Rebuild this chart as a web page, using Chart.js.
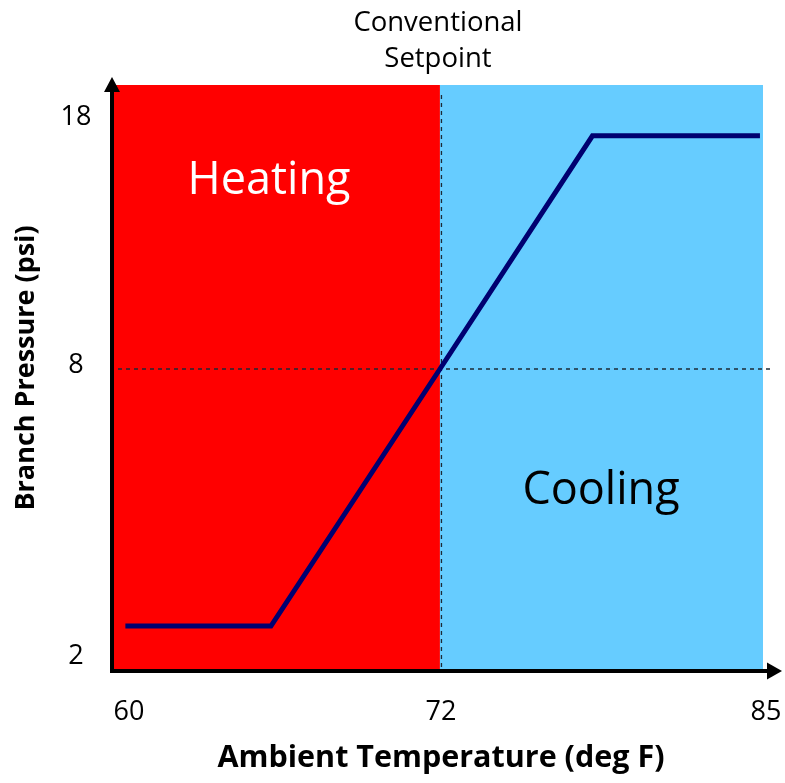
<!DOCTYPE html>
<html>
<head>
<meta charset="utf-8">
<script src="https://cdn.jsdelivr.net/npm/chart.js@4.4.1/dist/chart.umd.min.js"></script>
<style>
  html, body { margin: 0; padding: 0; background: #fff; }
  #contenedor { width: 785px; height: 783px; position: relative; }
</style>
</head>
<body>
<div id="contenedor"><canvas id="grafico"></canvas></div>
<script>
// datos
const temperaturas = [59.9, 65.5, 72, 78.1, 84.8];   // deg F
const presiones = [2.7, 2.7, 8, 17.4, 17.4];         // psi
const ticksX = [60, 72, 85];
const ticksY = [2, 8, 18];
const setpoint = 72;
const presionMedia = 8;

const FUENTE = "'Open Sans', 'Noto Sans', sans-serif";

// escala lineal por tramos: el eje del original no es proporcional
class EscalaTramos extends Chart.LinearScale {
  aDecimal(valor) {
    const tramos = this.options.tramos;
    let i = 1;
    while (i < tramos.length - 1 && valor > tramos[i][0]) i++;
    const [v0, d0] = tramos[i - 1];
    const [v1, d1] = tramos[i];
    return d0 + (valor - v0) * (d1 - d0) / (v1 - v0);
  }
  getPixelForValue(valor) {
    if (valor === null || valor === undefined) return NaN;
    return this.getPixelForDecimal(this.aDecimal(valor));
  }
  getValueForPixel(pixel) {
    const d = this.getDecimalForPixel(pixel);
    const tramos = this.options.tramos;
    let i = 1;
    while (i < tramos.length - 1 && d > tramos[i][1]) i++;
    const [v0, d0] = tramos[i - 1];
    const [v1, d1] = tramos[i];
    return v0 + (d - d0) * (v1 - v0) / (d1 - d0);
  }
}
EscalaTramos.id = "tramos";
EscalaTramos.defaults = {};
Chart.register(EscalaTramos);

function flecha(ctx, x1, y1, x2, y2, x3, y3) {
  ctx.beginPath();
  ctx.moveTo(x1, y1);
  ctx.lineTo(x2, y2);
  ctx.lineTo(x3, y3);
  ctx.closePath();
  ctx.fill();
}

const fondoYGuias = {
  id: "fondoYGuias",
  beforeDatasetsDraw(chart) {
    const { ctx, chartArea: a, scales: { x, y } } = chart;
    const xs = x.getPixelForValue(setpoint);
    const ym = y.getPixelForValue(presionMedia);
    ctx.save();
    ctx.fillStyle = "#ff0000";
    ctx.fillRect(a.left, a.top, xs - a.left, a.bottom - a.top);
    ctx.fillStyle = "#66ccff";
    ctx.fillRect(xs, a.top, a.right - xs, a.bottom - a.top);

    ctx.setLineDash([4, 4]);
    ctx.strokeStyle = "#1c2a36";
    ctx.lineWidth = 1.3;
    ctx.beginPath();
    ctx.moveTo(xs + 1.5, a.top + 10);
    ctx.lineTo(xs + 1.5, a.bottom);
    ctx.stroke();

    ctx.lineWidth = 1.5;
    ctx.beginPath();
    ctx.moveTo(a.left - 3, ym);
    ctx.lineTo(a.right + 10, ym);
    ctx.stroke();
    ctx.restore();
  },
  afterDraw(chart) {
    const { ctx, chartArea: a, scales: { x, y } } = chart;
    ctx.save();
    // ejes con flecha
    ctx.strokeStyle = "#000";
    ctx.fillStyle = "#000";
    ctx.lineWidth = 4;
    ctx.beginPath();
    ctx.moveTo(a.left - 1, a.bottom + 4);
    ctx.lineTo(a.left - 1, a.top + 5);
    ctx.moveTo(a.left - 3, a.bottom + 2);
    ctx.lineTo(a.right + 6, a.bottom + 2);
    ctx.stroke();
    flecha(ctx, a.left - 1, a.top - 8, a.left - 9, a.top + 7, a.left + 7, a.top + 7);
    flecha(ctx, a.right + 19, a.bottom + 2, a.right + 4, a.bottom - 6.5, a.right + 4, a.bottom + 10.5);

    // etiquetas de los ticks
    ctx.font = `27px ${FUENTE}`;
    ctx.textAlign = "center";
    ctx.textBaseline = "middle";
    ticksY.forEach((v) => ctx.fillText(String(v), 76, y.getPixelForValue(v) - 3.5));
    ticksX.forEach((v) => ctx.fillText(String(v), x.getPixelForValue(v) + 1, 712));

    // textos
    const xs = x.getPixelForValue(setpoint);
    ctx.textBaseline = "alphabetic";
    ctx.font = `27.5px ${FUENTE}`;
    ctx.fillText("Conventional", xs - 2, 31);
    ctx.fillText("Setpoint", xs - 2, 67);

    ctx.font = `45px ${FUENTE}`;
    ctx.fillStyle = "#fff";
    ctx.fillText("Heating", 269, 194);
    ctx.fillStyle = "#000";
    ctx.fillText("Cooling", 601, 504);

    ctx.font = `bold 30.5px ${FUENTE}`;
    ctx.fillText("Ambient Temperature (deg F)", 441, 767);

    ctx.save();
    ctx.translate(26, 368);
    ctx.rotate(-Math.PI / 2);
    ctx.textBaseline = "middle";
    ctx.font = `bold 27px ${FUENTE}`;
    ctx.fillText("Branch Pressure (psi)", 0, 0);
    ctx.restore();
    ctx.restore();
  },
};

new Chart(document.getElementById("grafico"), {
  type: "line",
  data: {
    datasets: [
      {
        data: temperaturas.map((t, i) => ({ x: t, y: presiones[i] })),
        borderColor: "#000070",
        borderWidth: 5,
        pointRadius: 0,
        tension: 0,
        fill: false,
        borderJoinStyle: "miter",
      },
    ],
  },
  options: {
    responsive: true,
    maintainAspectRatio: false,
    animation: false,
    layout: { padding: { left: 113, top: 85, right: 22, bottom: 114 } },
    scales: {
      x: {
        type: "tramos",
        min: 59.42,
        max: 84.92,
        display: false,
        tramos: [[59.42, 0], [60, 0.023], [72, 0.503], [85, 1.003]],
      },
      y: {
        type: "tramos",
        min: 1.81,
        max: 19.45,
        display: false,
        tramos: [[1.81, 0], [2, 0.0154], [8, 0.5137], [18, 0.9384], [19.45, 1]],
      },
    },
    plugins: {
      legend: { display: false },
      tooltip: { enabled: false },
    },
  },
  plugins: [fondoYGuias],
});
</script>
</body>
</html>
